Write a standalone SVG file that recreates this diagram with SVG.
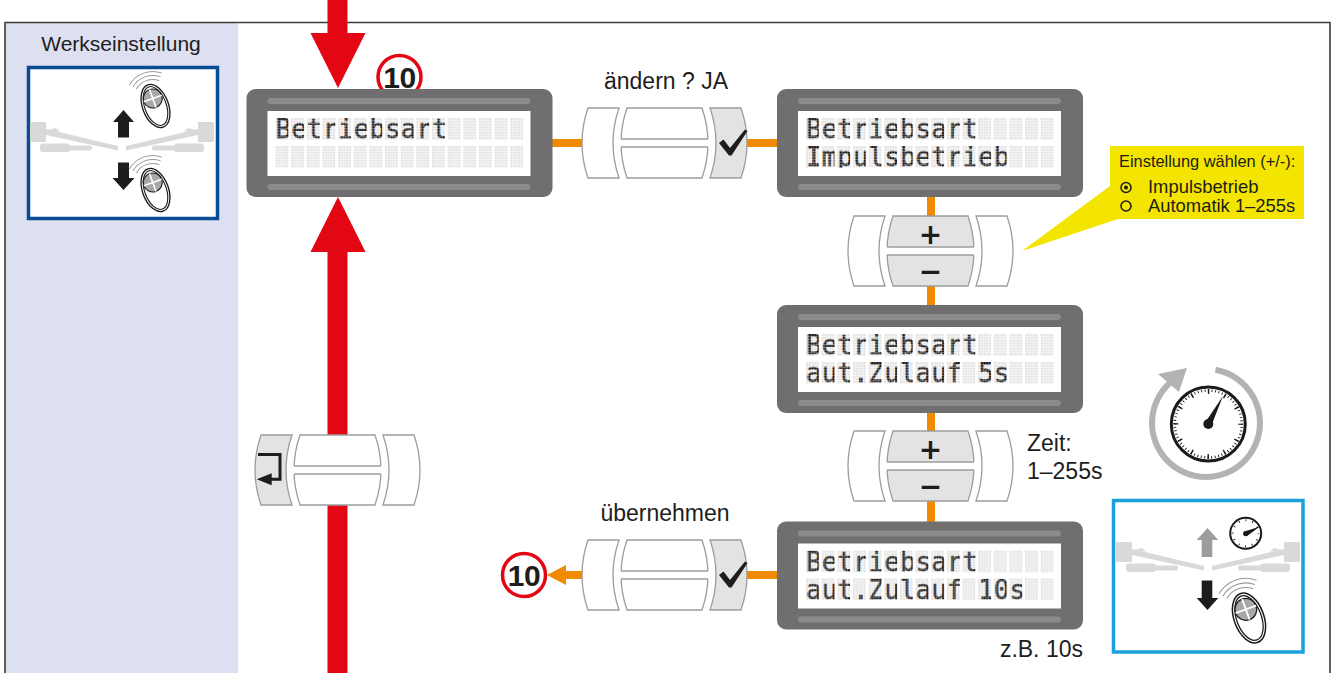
<svg xmlns="http://www.w3.org/2000/svg" width="1335" height="673" viewBox="0 0 1335 673">
  <style>
    .lbl { font-family: "Liberation Sans", Arial, sans-serif; fill: #1d1d1b; }
    .lcdt { font-family: "DejaVu Sans Mono", "Liberation Mono", monospace; font-size: 26px; fill: url(#litcells); stroke: url(#litcells); stroke-width: 0.4; }
    .badge-ring { fill: #fff; stroke: #e30613; stroke-width: 3.5; }
    .badge-num { font-family: "Liberation Sans", Arial, sans-serif; font-weight: bold; font-size: 30px; fill: #1d1d1b; text-anchor: middle; letter-spacing: -0.5px; }
    .key { font-family: "DejaVu Sans", "Liberation Sans", sans-serif; font-weight: bold; font-size: 28px; fill: #1d1d1b; text-anchor: middle; }
    .orange { fill: #f08a00; }
    .red { fill: #e30613; }
  </style>
  <defs>
    <!-- unlit 5x8 dot-matrix character cells -->
    <pattern id="cells" patternUnits="userSpaceOnUse" x="29" y="29" width="15.65" height="28">
      <rect width="12.8" height="21.5" fill="#e4e4e4"/>
      <path d="M2.56,0V21.5M5.12,0V21.5M7.68,0V21.5M10.24,0V21.5M0,2.69H12.8M0,5.375H12.8M0,8.06H12.8M0,10.75H12.8M0,13.44H12.8M0,16.125H12.8M0,18.81H12.8" stroke="#fff" stroke-width="0.5"/>
    </pattern>
    <!-- lit dots used as text paint -->
    <pattern id="litcells" patternUnits="userSpaceOnUse" x="29" y="29" width="15.65" height="28">
      <rect width="12.8" height="21.5" fill="#111"/>
      <path d="M2.56,0V21.5M5.12,0V21.5M7.68,0V21.5M10.24,0V21.5M0,2.69H12.8M0,5.375H12.8M0,8.06H12.8M0,10.75H12.8M0,13.44H12.8M0,16.125H12.8M0,18.81H12.8" stroke="#fff" stroke-width="0.35"/>
    </pattern>

    <!-- LCD housing -->
    <g id="lcdBody">
      <rect x="0" y="0" width="306" height="108" rx="9" fill="#6f6f6f"/>
      <rect x="21" y="9" width="263" height="6" rx="3" fill="#8b8b8b"/>
      <rect x="21" y="22" width="263" height="65" fill="#fff"/>
      <rect x="21" y="95" width="263" height="6" rx="3" fill="#8b8b8b"/>
      <rect x="29" y="29" width="247.6" height="49.5" fill="url(#cells)"/>
    </g>

    <!-- key pieces of a 3-part button cluster (165 x 70) -->
    <path id="pL" d="M6,0H37Q25,35 37,70H6Q-6,35 6,0Z" stroke="#9d9d9d" stroke-width="1.3"/>
    <path id="pM" d="M45,0H120Q132,35 120,70H45Q33,35 45,0Z" stroke="#9d9d9d" stroke-width="1.3"/>
    <path id="pR" d="M128,0H159Q171,35 159,70H128Q140,35 128,0Z" stroke="#9d9d9d" stroke-width="1.3"/>
    <g id="split">
      <rect x="37" y="31" width="91" height="8" fill="#fff"/>
      <path d="M39.1,31H125.9M39.1,39H125.9" stroke="#9d9d9d" stroke-width="1.3"/>
    </g>
    <path id="check" d="M137,35 L141.5,31.5 L148,40 L163,21.5 L165.5,23 L149.5,47.5 L147,47.5 Z" fill="#1d1d1b"/>

    <!-- gate with two swing arms -->
    <g id="gate" fill="#d9d9d9">
      <rect x="-92" y="0" width="16" height="20"/>
      <rect x="76" y="0" width="16" height="20"/>
      <path d="M-76,7 L-4,24 L-4,28.5 L-76,13 Z"/>
      <path d="M76,7 L4,24 L4,28.5 L76,13 Z"/>
      <rect x="-82" y="21.5" width="30" height="8.5" rx="3"/>
      <rect x="-54" y="23.5" width="24" height="5" rx="2"/>
      <rect x="52" y="21.5" width="30" height="8.5" rx="3"/>
      <rect x="30" y="23.5" width="24" height="5" rx="2"/>
      <path d="M-74,8 L-66,6 L-62,10 Z"/>
      <path d="M74,8 L66,6 L62,10 Z"/>
    </g>

    <!-- hand transmitter -->
    <g id="fob">
      <path d="M-12.21,-22.55A19,19 0 0 1 12.21,-22.55M-14.78,-25.62A23,23 0 0 1 14.78,-25.62M-17.36,-28.68A27,27 0 0 1 17.36,-28.68" fill="none" stroke="#9a9a9a" stroke-width="1"/>
      <ellipse rx="13" ry="22.5" fill="#fff" stroke="#1a1a1a" stroke-width="1.3"/>
      <ellipse rx="10.8" ry="20.3" fill="none" stroke="#1a1a1a" stroke-width="1.1"/>
      <circle cy="-8" r="9.5" fill="#a8a8a8" stroke="#1a1a1a" stroke-width="1.1"/>
      <path d="M0,-17.5V1.5M-9.5,-8H9.5" stroke="#fff" stroke-width="1.6"/>
    </g>
  </defs>

  <rect width="1335" height="673" fill="#fff"/>

  <!-- side panel -->
  <rect x="5" y="23" width="233" height="650" fill="#dde0f0"/>
  <!-- outer frame -->
  <path d="M5,680V22.5H1330V680" fill="none" stroke="#3c3c3b" stroke-width="1.6"/>

  <g id="factory-setting">
    <text class="lbl" x="121" y="51" font-size="21" text-anchor="middle">Werkseinstellung</text>
    <rect x="28.5" y="67.5" width="189" height="151" fill="#fff" stroke="#0b4a94" stroke-width="3.5"/>
    <use href="#gate" transform="translate(122,122)"/>
    <path d="M118,137.5V122H113L123.5,110L134,122H129V137.5Z" fill="#1d1d1b"/>
    <path d="M118,162.5V178H112.5L123.5,190L134.5,178H129V162.5Z" fill="#1d1d1b"/>
    <use href="#fob" transform="translate(155.5,106) rotate(-20)"/>
    <use href="#fob" transform="translate(155.5,190) rotate(-20)"/>
  </g>

  <!-- connectors -->
  <g id="connectors">
    <path class="red" d="M327.5,0V33H310.5L338,88L365.5,33H347.5V0Z"/>
    <path class="red" d="M327.5,673V252H310.5L338,197L365.5,252H347.5V673Z"/>
    <rect class="orange" x="552" y="139" width="31" height="8"/>
    <rect class="orange" x="746" y="139" width="32" height="8"/>
    <rect class="orange" x="927" y="197" width="8" height="20"/>
    <rect class="orange" x="927" y="285" width="8" height="21"/>
    <rect class="orange" x="927" y="412" width="8" height="20"/>
    <rect class="orange" x="927" y="500" width="8" height="22"/>
    <rect class="orange" x="746" y="571" width="32" height="8"/>
    <path class="orange" d="M583,571H566V565L547,575L566,585V579H583Z"/>
  </g>

  <g id="badge-top">
    <circle class="badge-ring" cx="399.5" cy="77" r="21.5"/>
    <text class="badge-num" x="399.5" y="88">10</text>
  </g>

  <g id="lcd-1" transform="translate(246.5,89)">
    <use href="#lcdBody"/>
    <text class="lcdt" x="29" y="49.3" textLength="172.15">Betriebsart</text>
  </g>

  <g id="btn-change" transform="translate(582,108)">
    <use href="#pL" fill="#fff"/>
    <use href="#pM" fill="#fff"/>
    <use href="#pR" fill="#e3e3e3"/>
    <use href="#split"/>
    <use href="#check"/>
  </g>
  <text id="label-change" class="lbl" x="666" y="89" font-size="23" text-anchor="middle">ändern ? JA</text>

  <g id="lcd-2" transform="translate(777,89)">
    <use href="#lcdBody"/>
    <text class="lcdt" x="29" y="49.3" textLength="172.15">Betriebsart</text>
    <text class="lcdt" x="29" y="77" textLength="203.45">Impulsbetrieb</text>
  </g>

  <g id="hint-mode">
    <polygon points="1110,186 1110,219 1118,219 1022,251" fill="#f4e500"/>
    <rect x="1110" y="146" width="194" height="73" fill="#f4e500"/>
    <text class="lbl" x="1119" y="167" font-size="16.4">Einstellung wählen (+/-):</text>
    <circle cx="1126" cy="187.5" r="5" fill="none" stroke="#1d1d1b" stroke-width="1.5"/>
    <circle cx="1126" cy="187.5" r="2" fill="#1d1d1b"/>
    <text class="lbl" x="1148" y="193" font-size="18.4">Impulsbetrieb</text>
    <circle cx="1126" cy="206" r="5" fill="none" stroke="#1d1d1b" stroke-width="1.5"/>
    <text class="lbl" x="1148" y="212" font-size="18.4">Automatik 1–255s</text>
  </g>

  <g id="btn-plusminus-1" transform="translate(848,216)">
    <use href="#pL" fill="#fff"/>
    <use href="#pM" fill="#e3e3e3"/>
    <use href="#pR" fill="#fff"/>
    <use href="#split"/>
    <text class="key" x="82.5" y="28">+</text>
    <text class="key" x="82.5" y="65">−</text>
  </g>

  <g id="lcd-3" transform="translate(777,305)">
    <use href="#lcdBody"/>
    <text class="lcdt" x="29" y="49.3" textLength="172.15">Betriebsart</text>
    <text class="lcdt" x="29" y="77" textLength="203.45">aut.Zulauf 5s</text>
  </g>

  <g id="timer">
    <path d="M1215.4,369.8A54,54 0 1 1 1171.3,381.6" fill="none" stroke="#b3b3b3" stroke-width="6"/>
    <polygon points="1187,368 1179,392 1158,374" fill="#b3b3b3"/>
    <circle cx="1208.3" cy="424" r="37" fill="#fff" stroke="#1a1a1a" stroke-width="3"/>
    <circle cx="1208.3" cy="424" r="33.5" fill="none" stroke="#1a1a1a" stroke-width="2.5" stroke-dasharray="0.9 2.608" stroke-dashoffset="0.45"/>
    <circle cx="1208.3" cy="424" r="32.5" fill="none" stroke="#1a1a1a" stroke-width="5" stroke-dasharray="1.5 15.517" stroke-dashoffset="0.75"/>
    <polygon points="1223,396 1211.4,425.6 1205.2,422.4" fill="#1a1a1a"/>
    <circle cx="1208.3" cy="424" r="5" fill="#1a1a1a"/>
  </g>

  <g id="btn-plusminus-2" transform="translate(848,431)">
    <use href="#pL" fill="#fff"/>
    <use href="#pM" fill="#e3e3e3"/>
    <use href="#pR" fill="#fff"/>
    <use href="#split"/>
    <text class="key" x="82.5" y="28">+</text>
    <text class="key" x="82.5" y="65">−</text>
  </g>
  <g id="label-time">
    <text class="lbl" x="1027" y="451" font-size="23">Zeit:</text>
    <text class="lbl" x="1027" y="479" font-size="23">1–255s</text>
  </g>

  <g id="btn-enter" transform="translate(255,435)">
    <use href="#pL" fill="#e3e3e3"/>
    <use href="#pM" fill="#fff"/>
    <use href="#pR" fill="#fff"/>
    <use href="#split"/>
    <path d="M3,19.5H25V44.3H15" fill="none" stroke="#1d1d1b" stroke-width="3"/>
    <polygon points="1.7,44.3 16.7,38.3 16.7,50.3" fill="#1d1d1b"/>
  </g>

  <text id="label-accept" class="lbl" x="665" y="521" font-size="23" text-anchor="middle">übernehmen</text>
  <g id="btn-accept" transform="translate(582,540)">
    <use href="#pL" fill="#fff"/>
    <use href="#pM" fill="#fff"/>
    <use href="#pR" fill="#e3e3e3"/>
    <use href="#split"/>
    <use href="#check"/>
  </g>

  <g id="badge-bottom">
    <circle class="badge-ring" cx="524" cy="575" r="21.5"/>
    <text class="badge-num" x="524" y="586">10</text>
  </g>

  <g id="lcd-4" transform="translate(777,521.5)">
    <use href="#lcdBody"/>
    <text class="lcdt" x="29" y="49.3" textLength="172.15">Betriebsart</text>
    <text class="lcdt" x="29" y="77" textLength="219.1">aut.Zulauf 10s</text>
  </g>
  <text id="label-example" class="lbl" x="1083" y="657" font-size="23" text-anchor="end">z.B. 10s</text>

  <g id="auto-close">
    <rect x="1113.5" y="500.5" width="189.5" height="151.5" fill="#fff" stroke="#1aa1dd" stroke-width="3.5"/>
    <use href="#gate" transform="translate(1208,542)"/>
    <path d="M1201.7,557V540H1196.7L1207.5,528L1218.3,540H1212.3V557Z" fill="#9d9d9d"/>
    <path d="M1201.7,580.5V598H1196.7L1207.5,610L1218.3,598H1212.3V580.5Z" fill="#1d1d1b"/>
    <circle cx="1245.7" cy="533.3" r="15.5" fill="#fff" stroke="#1a1a1a" stroke-width="2"/>
    <circle cx="1245.7" cy="533.3" r="13" fill="none" stroke="#1a1a1a" stroke-width="2" stroke-dasharray="0.9 5.9" stroke-dashoffset="0.45"/>
    <polygon points="1260,526.5 1247,536 1244.5,531.5" fill="#1a1a1a"/>
    <circle cx="1245.7" cy="533.6" r="2.6" fill="#1a1a1a"/>
    <use href="#fob" transform="translate(1249,618) rotate(-20) scale(1.15)"/>
  </g>
</svg>
